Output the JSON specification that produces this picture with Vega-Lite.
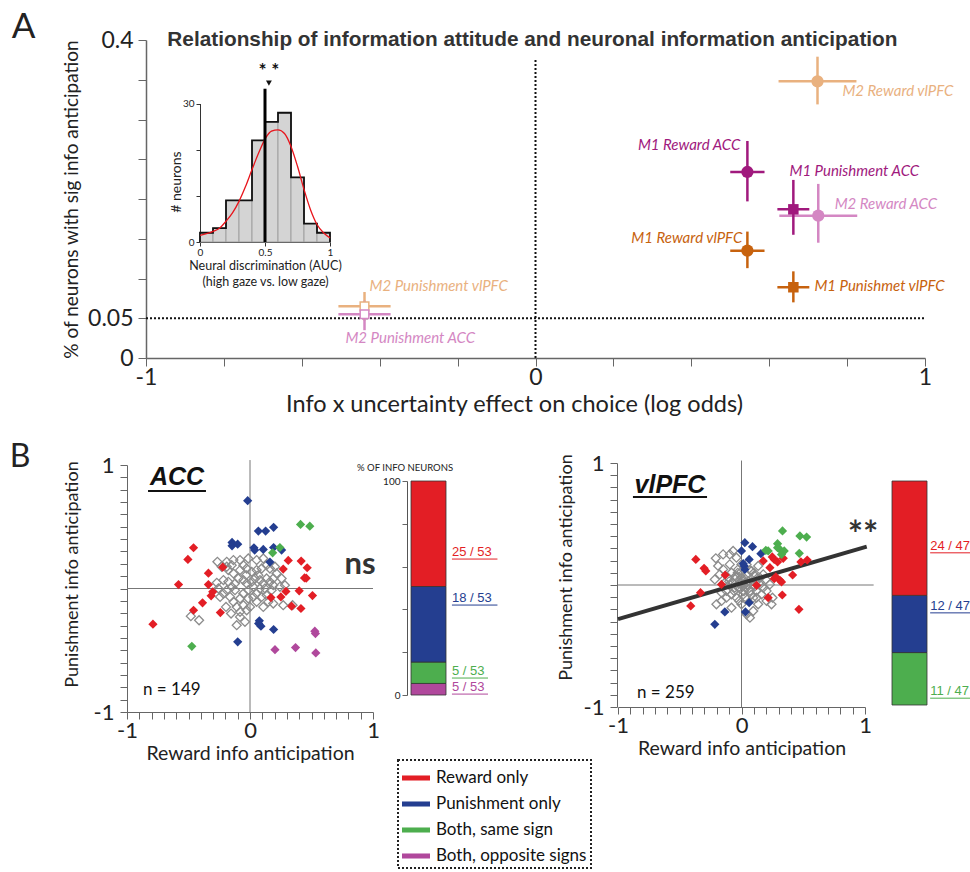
{
"$schema": "https://vega.github.io/schema/vega-lite/v6.json",
"width": 970, "height": 872, "autosize": "none", "padding": 0, "background": "white",
"config": {
  "view": {"stroke": null},
  "axis": {"grid": false, "domainColor": "#666", "tickColor": "#666", "labelColor": "#222", "titleColor": "#222", "labelFont": "Lato", "titleFont": "Lato", "titleFontWeight": "normal", "labelFlush": false, "labelOverlap": false, "labelBound": false},
  "legend": {"strokeDash": [2, 2], "strokeWidth": 2},
  "text": {"font": "Lato"}
},
"datasets": {
  "aPts": [
    {"label": "M2 Reward vlPFC", "group": "M2 vlPFC", "valence": "Reward", "x": 0.724, "y": 0.348, "xlo": 0.624, "xhi": 0.824, "ylo": 0.319, "yhi": 0.379},
    {"label": "M1 Reward ACC", "group": "M1 ACC", "valence": "Reward", "x": 0.544, "y": 0.234, "xlo": 0.5, "xhi": 0.588, "ylo": 0.197, "yhi": 0.273},
    {"label": "M1 Punishment ACC", "group": "M1 ACC", "valence": "Punishment", "x": 0.662, "y": 0.187, "xlo": 0.621, "xhi": 0.703, "ylo": 0.155, "yhi": 0.224},
    {"label": "M2 Reward ACC", "group": "M2 ACC", "valence": "Reward", "x": 0.726, "y": 0.179, "xlo": 0.626, "xhi": 0.826, "ylo": 0.145, "yhi": 0.219},
    {"label": "M1 Reward vlPFC", "group": "M1 vlPFC", "valence": "Reward", "x": 0.544, "y": 0.135, "xlo": 0.5, "xhi": 0.588, "ylo": 0.113, "yhi": 0.159},
    {"label": "M1 Punishmet vlPFC", "group": "M1 vlPFC", "valence": "Punishment", "x": 0.662, "y": 0.089, "xlo": 0.621, "xhi": 0.703, "ylo": 0.07, "yhi": 0.109},
    {"label": "M2 Punishment vlPFC", "group": "M2 vlPFC", "valence": "Punishment", "x": -0.439, "y": 0.065, "xlo": -0.506, "xhi": -0.372, "ylo": 0.047, "yhi": 0.083},
    {"label": "M2 Punishment ACC", "group": "M2 ACC", "valence": "Punishment", "x": -0.439, "y": 0.055, "xlo": -0.506, "xhi": -0.372, "ylo": 0.035, "yhi": 0.072}
  ],
  "aLab": [
    {"label": "M2 Reward vlPFC", "group": "M2 vlPFC", "x": 0.788, "y": 0.336},
    {"label": "M1 Reward ACC", "group": "M1 ACC", "x": 0.526, "y": 0.268},
    {"label": "M1 Punishment ACC", "group": "M1 ACC", "x": 0.652, "y": 0.235},
    {"label": "M2 Reward ACC", "group": "M2 ACC", "x": 0.768, "y": 0.194},
    {"label": "M1 Reward vlPFC", "group": "M1 vlPFC", "x": 0.531, "y": 0.151},
    {"label": "M1 Punishmet vlPFC", "group": "M1 vlPFC", "x": 0.716, "y": 0.0906},
    {"label": "M2 Punishment vlPFC", "group": "M2 vlPFC", "x": -0.426, "y": 0.0906},
    {"label": "M2 Punishment ACC", "group": "M2 ACC", "x": -0.488, "y": 0.025}
  ],
  "hist": [
    {"b0": 0, "b1": 0.1, "n": 2}, {"b0": 0.1, "b1": 0.2, "n": 3}, {"b0": 0.2, "b1": 0.3, "n": 9}, {"b0": 0.3, "b1": 0.4, "n": 9},
    {"b0": 0.4, "b1": 0.5, "n": 22}, {"b0": 0.5, "b1": 0.6, "n": 26}, {"b0": 0.6, "b1": 0.7, "n": 28}, {"b0": 0.7, "b1": 0.8, "n": 14},
    {"b0": 0.8, "b1": 0.9, "n": 4}, {"b0": 0.9, "b1": 1, "n": 2}
  ],
  "histStep": [
    {"e": 0, "n": 0, "i": 0}, {"e": 0, "n": 2, "i": 1}, {"e": 0.1, "n": 3, "i": 2}, {"e": 0.2, "n": 9, "i": 3}, {"e": 0.3, "n": 9, "i": 4},
    {"e": 0.4, "n": 22, "i": 5}, {"e": 0.5, "n": 26, "i": 6}, {"e": 0.6, "n": 28, "i": 7}, {"e": 0.7, "n": 14, "i": 8}, {"e": 0.8, "n": 4, "i": 9},
    {"e": 0.9, "n": 2, "i": 10}, {"e": 1, "n": 2, "i": 11}, {"e": 1, "n": 0, "i": 12}
  ],
  "gauss": [
    {"x": 0, "y": 1.45}, {"x": 0.05, "y": 1.8}, {"x": 0.1, "y": 2.3}, {"x": 0.15, "y": 3.0}, {"x": 0.2, "y": 4.5}, {"x": 0.25, "y": 6.3},
    {"x": 0.3, "y": 8.8}, {"x": 0.35, "y": 12.0}, {"x": 0.4, "y": 15.7}, {"x": 0.45, "y": 19.2}, {"x": 0.5, "y": 22.3}, {"x": 0.55, "y": 24.0},
    {"x": 0.6, "y": 24.3}, {"x": 0.65, "y": 23.5}, {"x": 0.7, "y": 20.7}, {"x": 0.75, "y": 16.4}, {"x": 0.8, "y": 11.4}, {"x": 0.85, "y": 7.0},
    {"x": 0.9, "y": 3.8}, {"x": 0.95, "y": 2.0}, {"x": 1, "y": 0.9}
  ],
  "acc": [
    {"x": -0.789, "y": -0.289, "cat": "Reward only"}, {"x": -0.581, "y": 0.032, "cat": "Reward only"}, {"x": -0.505, "y": 0.235, "cat": "Reward only"}, {"x": -0.459, "y": 0.33, "cat": "Reward only"}, {"x": -0.459, "y": -0.176, "cat": "Reward only"},
    {"x": -0.386, "y": -0.116, "cat": "Reward only"}, {"x": -0.338, "y": 0.124, "cat": "Reward only"}, {"x": -0.338, "y": 0.032, "cat": "Reward only"}, {"x": -0.316, "y": -0.059, "cat": "Reward only"}, {"x": -0.303, "y": -0.027, "cat": "Reward only"},
    {"x": -0.241, "y": -0.195, "cat": "Reward only"}, {"x": -0.222, "y": 0.173, "cat": "Reward only"}, {"x": 0.17, "y": -0.073, "cat": "Reward only"}, {"x": 0.251, "y": -0.068, "cat": "Reward only"}, {"x": 0.27, "y": 0.157, "cat": "Reward only"},
    {"x": 0.292, "y": -0.024, "cat": "Reward only"}, {"x": 0.311, "y": 0.227, "cat": "Reward only"}, {"x": 0.338, "y": -0.143, "cat": "Reward only"}, {"x": 0.4, "y": -0.019, "cat": "Reward only"}, {"x": 0.414, "y": -0.162, "cat": "Reward only"},
    {"x": 0.416, "y": 0.222, "cat": "Reward only"}, {"x": 0.443, "y": 0.086, "cat": "Reward only"}, {"x": 0.465, "y": 0.168, "cat": "Reward only"}, {"x": 0.457, "y": 0.084, "cat": "Reward only"}, {"x": 0.508, "y": -0.057, "cat": "Reward only"},
    {"x": -0.019, "y": 0.711, "cat": "Punishment only"}, {"x": -0.146, "y": 0.373, "cat": "Punishment only"}, {"x": -0.146, "y": 0.346, "cat": "Punishment only"}, {"x": -0.1, "y": 0.359, "cat": "Punishment only"}, {"x": 0.068, "y": 0.465, "cat": "Punishment only"},
    {"x": 0.127, "y": 0.465, "cat": "Punishment only"}, {"x": 0.192, "y": 0.495, "cat": "Punishment only"}, {"x": 0.032, "y": 0.33, "cat": "Punishment only"}, {"x": 0.038, "y": 0.311, "cat": "Punishment only"}, {"x": 0.108, "y": 0.316, "cat": "Punishment only"},
    {"x": 0.192, "y": 0.332, "cat": "Punishment only"}, {"x": 0.257, "y": 0.311, "cat": "Punishment only"}, {"x": 0.162, "y": 0.214, "cat": "Punishment only"}, {"x": 0.076, "y": -0.262, "cat": "Punishment only"}, {"x": 0.089, "y": -0.305, "cat": "Punishment only"},
    {"x": 0.192, "y": -0.332, "cat": "Punishment only"}, {"x": -0.1, "y": -0.432, "cat": "Punishment only"}, {"x": 0.07, "y": -0.284, "cat": "Punishment only"},
    {"x": 0.411, "y": 0.519, "cat": "Both, same sign"}, {"x": 0.486, "y": 0.505, "cat": "Both, same sign"}, {"x": 0.184, "y": 0.289, "cat": "Both, same sign"}, {"x": 0.243, "y": 0.332, "cat": "Both, same sign"}, {"x": -0.473, "y": -0.468, "cat": "Both, same sign"},
    {"x": 0.527, "y": -0.346, "cat": "Both, opposite signs"}, {"x": 0.532, "y": -0.365, "cat": "Both, opposite signs"}, {"x": 0.203, "y": -0.495, "cat": "Both, opposite signs"}, {"x": 0.37, "y": -0.478, "cat": "Both, opposite signs"}, {"x": 0.535, "y": -0.522, "cat": "Both, opposite signs"},
    {"x": -0.265, "y": 0.216, "cat": "None"}, {"x": -0.23, "y": 0.176, "cat": "None"}, {"x": -0.189, "y": 0.216, "cat": "None"}, {"x": -0.149, "y": 0.189, "cat": "None"}, {"x": -0.135, "y": 0.23, "cat": "None"},
    {"x": -0.081, "y": 0.23, "cat": "None"}, {"x": -0.054, "y": 0.189, "cat": "None"}, {"x": -0.014, "y": 0.243, "cat": "None"}, {"x": 0.054, "y": 0.23, "cat": "None"}, {"x": 0.108, "y": 0.243, "cat": "None"},
    {"x": 0.135, "y": 0.189, "cat": "None"}, {"x": 0.162, "y": 0.162, "cat": "None"}, {"x": 0.095, "y": 0.162, "cat": "None"}, {"x": 0.054, "y": 0.149, "cat": "None"}, {"x": 0.014, "y": 0.135, "cat": "None"},
    {"x": -0.027, "y": 0.162, "cat": "None"}, {"x": -0.081, "y": 0.149, "cat": "None"}, {"x": -0.135, "y": 0.122, "cat": "None"}, {"x": -0.176, "y": 0.149, "cat": "None"}, {"x": -0.27, "y": 0.046, "cat": "None"},
    {"x": -0.216, "y": 0.068, "cat": "None"}, {"x": -0.176, "y": 0.054, "cat": "None"}, {"x": -0.149, "y": 0.014, "cat": "None"}, {"x": -0.122, "y": -0.014, "cat": "None"}, {"x": -0.189, "y": -0.014, "cat": "None"},
    {"x": -0.216, "y": -0.041, "cat": "None"}, {"x": -0.162, "y": -0.068, "cat": "None"}, {"x": -0.135, "y": -0.108, "cat": "None"}, {"x": -0.108, "y": -0.149, "cat": "None"}, {"x": -0.081, "y": -0.189, "cat": "None"},
    {"x": -0.054, "y": -0.135, "cat": "None"}, {"x": -0.027, "y": -0.176, "cat": "None"}, {"x": 0, "y": -0.149, "cat": "None"}, {"x": -0.014, "y": -0.081, "cat": "None"}, {"x": -0.054, "y": -0.041, "cat": "None"},
    {"x": -0.081, "y": -0.081, "cat": "None"}, {"x": -0.122, "y": 0.041, "cat": "None"}, {"x": -0.095, "y": 0.081, "cat": "None"}, {"x": -0.054, "y": 0.068, "cat": "None"}, {"x": -0.027, "y": 0.041, "cat": "None"},
    {"x": 0.014, "y": 0.054, "cat": "None"}, {"x": 0.041, "y": 0.081, "cat": "None"}, {"x": 0.068, "y": 0.108, "cat": "None"}, {"x": 0.081, "y": 0.068, "cat": "None"}, {"x": 0.108, "y": 0.041, "cat": "None"},
    {"x": 0.135, "y": 0.081, "cat": "None"}, {"x": 0.162, "y": 0.054, "cat": "None"}, {"x": 0.189, "y": 0.027, "cat": "None"}, {"x": 0.176, "y": -0.014, "cat": "None"}, {"x": 0.122, "y": 0, "cat": "None"},
    {"x": 0.081, "y": 0, "cat": "None"}, {"x": 0.054, "y": -0.041, "cat": "None"}, {"x": 0.095, "y": -0.068, "cat": "None"}, {"x": 0.135, "y": -0.054, "cat": "None"}, {"x": 0.189, "y": 0.081, "cat": "None"},
    {"x": 0.216, "y": 0.122, "cat": "None"}, {"x": 0.243, "y": 0.014, "cat": "None"}, {"x": 0.284, "y": 0.027, "cat": "None"}, {"x": 0.27, "y": -0.135, "cat": "None"}, {"x": 0.189, "y": -0.122, "cat": "None"},
    {"x": 0.149, "y": -0.108, "cat": "None"}, {"x": 0.108, "y": -0.149, "cat": "None"}, {"x": 0.054, "y": -0.108, "cat": "None"}, {"x": 0.027, "y": -0.068, "cat": "None"}, {"x": -0.014, "y": -0.014, "cat": "None"},
    {"x": -0.081, "y": -0.23, "cat": "None"}, {"x": -0.108, "y": -0.297, "cat": "None"}, {"x": -0.041, "y": -0.27, "cat": "None"}, {"x": -0.481, "y": -0.224, "cat": "None"}, {"x": -0.414, "y": -0.257, "cat": "None"},
    {"x": -0.195, "y": -0.149, "cat": "None"}, {"x": -0.154, "y": -0.203, "cat": "None"}, {"x": -0.189, "y": 0.176, "cat": "None"}, {"x": -0.257, "y": 0, "cat": "None"}, {"x": -0.243, "y": -0.068, "cat": "None"},
    {"x": 0.203, "y": 0.176, "cat": "None"}, {"x": 0.257, "y": 0.081, "cat": "None"}, {"x": 0.346, "y": -0.135, "cat": "None"}, {"x": 0.027, "y": 0.014, "cat": "None"}, {"x": -0.032, "y": 0.108, "cat": "None"}
  ],
  "vl": [
    {"x": -0.37, "y": 0.21, "cat": "Reward only"}, {"x": -0.303, "y": 0.137, "cat": "Reward only"}, {"x": -0.289, "y": 0.115, "cat": "Reward only"}, {"x": -0.332, "y": -0.063, "cat": "Reward only"}, {"x": -0.411, "y": -0.172, "cat": "Reward only"},
    {"x": -0.132, "y": 0.082, "cat": "Reward only"}, {"x": -0.162, "y": 0.005, "cat": "Reward only"}, {"x": 0.122, "y": -0.003, "cat": "Reward only"}, {"x": 0.176, "y": 0.197, "cat": "Reward only"}, {"x": 0.23, "y": 0.142, "cat": "Reward only"},
    {"x": 0.249, "y": 0.23, "cat": "Reward only"}, {"x": 0.265, "y": 0.21, "cat": "Reward only"}, {"x": 0.278, "y": 0.066, "cat": "Reward only"}, {"x": 0.311, "y": 0.038, "cat": "Reward only"}, {"x": 0.324, "y": 0.025, "cat": "Reward only"},
    {"x": 0.338, "y": 0.219, "cat": "Reward only"}, {"x": 0.414, "y": 0.082, "cat": "Reward only"}, {"x": 0.481, "y": 0.189, "cat": "Reward only"}, {"x": 0.532, "y": 0.205, "cat": "Reward only"}, {"x": 0.216, "y": -0.104, "cat": "Reward only"},
    {"x": 0.33, "y": -0.082, "cat": "Reward only"}, {"x": 0.465, "y": -0.199, "cat": "Reward only"}, {"x": 0.265, "y": 0.052, "cat": "Reward only"}, {"x": 0.292, "y": 0.189, "cat": "Reward only"},
    {"x": 0.027, "y": 0.347, "cat": "Punishment only"}, {"x": 0.089, "y": 0.314, "cat": "Punishment only"}, {"x": 0, "y": 0.279, "cat": "Punishment only"}, {"x": 0.062, "y": 0.21, "cat": "Punishment only"}, {"x": 0.022, "y": 0.156, "cat": "Punishment only"},
    {"x": 0.027, "y": 0.128, "cat": "Punishment only"}, {"x": 0.157, "y": 0.257, "cat": "Punishment only"}, {"x": 0.062, "y": -0.145, "cat": "Punishment only"}, {"x": 0.032, "y": -0.221, "cat": "Punishment only"}, {"x": -0.135, "y": -0.221, "cat": "Punishment only"},
    {"x": -0.216, "y": -0.322, "cat": "Punishment only"}, {"x": 0.014, "y": 0.175, "cat": "Punishment only"},
    {"x": 0.332, "y": 0.443, "cat": "Both, same sign"}, {"x": 0.473, "y": 0.402, "cat": "Both, same sign"}, {"x": 0.527, "y": 0.393, "cat": "Both, same sign"}, {"x": 0.197, "y": 0.284, "cat": "Both, same sign"}, {"x": 0.216, "y": 0.279, "cat": "Both, same sign"},
    {"x": 0.292, "y": 0.339, "cat": "Both, same sign"}, {"x": 0.311, "y": 0.292, "cat": "Both, same sign"}, {"x": 0.346, "y": 0.279, "cat": "Both, same sign"}, {"x": 0.324, "y": 0.251, "cat": "Both, same sign"}, {"x": 0.468, "y": 0.26, "cat": "Both, same sign"},
    {"x": 0.292, "y": 0.306, "cat": "Both, same sign"},
    {"x": -0.208, "y": 0.219, "cat": "None"}, {"x": -0.189, "y": 0.156, "cat": "None"}, {"x": -0.216, "y": 0.046, "cat": "None"}, {"x": -0.203, "y": -0.158, "cat": "None"}, {"x": -0.162, "y": -0.131, "cat": "None"},
    {"x": -0.122, "y": -0.049, "cat": "None"}, {"x": -0.081, "y": -0.186, "cat": "None"}, {"x": -0.068, "y": 0.279, "cat": "None"}, {"x": -0.041, "y": 0.224, "cat": "None"}, {"x": -0.095, "y": 0.169, "cat": "None"},
    {"x": -0.149, "y": 0.128, "cat": "None"}, {"x": -0.108, "y": 0.06, "cat": "None"}, {"x": -0.068, "y": 0.019, "cat": "None"}, {"x": -0.027, "y": -0.022, "cat": "None"}, {"x": 0, "y": 0.06, "cat": "None"},
    {"x": 0.041, "y": 0.019, "cat": "None"}, {"x": 0.068, "y": -0.049, "cat": "None"}, {"x": 0.095, "y": -0.104, "cat": "None"}, {"x": 0.122, "y": -0.049, "cat": "None"}, {"x": 0.149, "y": 0.005, "cat": "None"},
    {"x": 0.176, "y": -0.022, "cat": "None"}, {"x": 0.203, "y": -0.049, "cat": "None"}, {"x": 0.243, "y": -0.158, "cat": "None"}, {"x": 0.251, "y": -0.104, "cat": "None"}, {"x": 0.203, "y": -0.131, "cat": "None"},
    {"x": 0.135, "y": -0.158, "cat": "None"}, {"x": 0.095, "y": -0.213, "cat": "None"}, {"x": 0.068, "y": -0.268, "cat": "None"}, {"x": 0.041, "y": -0.24, "cat": "None"}, {"x": 0, "y": -0.158, "cat": "None"},
    {"x": -0.041, "y": -0.104, "cat": "None"}, {"x": -0.081, "y": -0.077, "cat": "None"}, {"x": 0.014, "y": -0.077, "cat": "None"}, {"x": 0.041, "y": 0.087, "cat": "None"}, {"x": 0.081, "y": 0.115, "cat": "None"},
    {"x": 0.108, "y": 0.074, "cat": "None"}, {"x": 0.135, "y": 0.156, "cat": "None"}, {"x": 0, "y": 0.169, "cat": "None"}, {"x": -0.027, "y": 0.128, "cat": "None"}, {"x": -0.041, "y": 0.06, "cat": "None"},
    {"x": -0.081, "y": 0.101, "cat": "None"}, {"x": 0.095, "y": 0.005, "cat": "None"}, {"x": 0.122, "y": -0.104, "cat": "None"}, {"x": 0.162, "y": -0.077, "cat": "None"}, {"x": 0.041, "y": -0.022, "cat": "None"},
    {"x": 0.014, "y": -0.008, "cat": "None"}, {"x": -0.014, "y": 0.019, "cat": "None"}, {"x": -0.054, "y": -0.022, "cat": "None"}, {"x": -0.095, "y": 0.005, "cat": "None"}, {"x": -0.122, "y": -0.104, "cat": "None"},
    {"x": -0.162, "y": -0.063, "cat": "None"}, {"x": -0.135, "y": 0.019, "cat": "None"}, {"x": -0.176, "y": 0.087, "cat": "None"}, {"x": -0.149, "y": 0.251, "cat": "None"}, {"x": -0.095, "y": 0.251, "cat": "None"},
    {"x": 0.041, "y": 0.169, "cat": "None"}, {"x": 0.176, "y": 0.087, "cat": "None"}, {"x": 0.149, "y": 0.06, "cat": "None"}, {"x": 0.23, "y": 0.005, "cat": "None"}, {"x": 0.197, "y": 0.046, "cat": "None"},
    {"x": 0.01, "y": 0.03, "cat": "None"}, {"x": 0.03, "y": 0.05, "cat": "None"}, {"x": -0.02, "y": 0.04, "cat": "None"}, {"x": 0.05, "y": 0.0, "cat": "None"}, {"x": -0.01, "y": -0.03, "cat": "None"},
    {"x": 0.02, "y": -0.05, "cat": "None"}, {"x": 0.06, "y": 0.03, "cat": "None"}, {"x": -0.05, "y": 0.07, "cat": "None"}, {"x": 0.07, "y": 0.12, "cat": "None"}, {"x": -0.03, "y": 0.1, "cat": "None"},
    {"x": 0.0, "y": 0.11, "cat": "None"}, {"x": 0.1, "y": 0.1, "cat": "None"}, {"x": 0.11, "y": -0.01, "cat": "None"}, {"x": -0.06, "y": -0.05, "cat": "None"}, {"x": 0.03, "y": -0.1, "cat": "None"},
    {"x": -0.02, "y": -0.13, "cat": "None"}, {"x": 0.08, "y": -0.08, "cat": "None"}, {"x": 0.12, "y": 0.03, "cat": "None"}, {"x": -0.1, "y": 0.03, "cat": "None"}, {"x": 0.0, "y": 0.0, "cat": "None"}
  ],
  "vlFit": [{"x": -1, "y": -0.28}, {"x": 1.014, "y": 0.314}],
  "accBar": [
    {"cat": "Both, opposite signs", "pct": 5.4, "rank": 1},
    {"cat": "Both, same sign", "pct": 10.0, "rank": 2},
    {"cat": "Punishment only", "pct": 35.3, "rank": 3},
    {"cat": "Reward only", "pct": 49.3, "rank": 4}
  ],
  "accBarLab": [
    {"cat": "Reward only", "txt": "25 / 53", "y": 66.8},
    {"cat": "Punishment only", "txt": "18 / 53", "y": 45.3},
    {"cat": "Both, same sign", "txt": "5 / 53", "y": 11.2},
    {"cat": "Both, opposite signs", "txt": "5 / 53", "y": 3.7}
  ],
  "vlBar": [
    {"cat": "Both, same sign", "n": 11, "rank": 2},
    {"cat": "Punishment only", "n": 12, "rank": 3},
    {"cat": "Reward only", "n": 24, "rank": 4}
  ],
  "vlBarLab": [
    {"cat": "Reward only", "txt": "24 / 47", "y": 33.4},
    {"cat": "Punishment only", "txt": "12 / 47", "y": 20.8},
    {"cat": "Both, same sign", "txt": "11 / 47", "y": 2.9}
  ]
},
"layer": [
  {
    "layer": [
      {
        "data": {"values": [{"x": 0, "ylo": 0, "yhi": 0.375}]},
        "mark": {"type": "rule", "strokeDash": [2, 2], "strokeWidth": 2, "color": "#111"},
        "encoding": {
          "x": {"field": "x", "type": "quantitative", "scale": {"domain": [-1, 1], "range": [146, 925], "nice": false, "zero": false},
            "axis": {"orient": "bottom", "offset": -514, "values": [-1, -0.8, -0.6, -0.4, -0.2, 0, 0.2, 0.4, 0.6, 0.8, 1], "labelExpr": "datum.value == -1 ? '-1' : datum.value == 0 ? '0' : datum.value == 1 ? '1' : ''", "labelFontSize": 23, "tickSize": 8, "labelPadding": 0, "domainWidth": 1.5, "title": "Info x uncertainty effect on choice (log odds)", "titleFontSize": 23.5, "titlePadding": 3, "titleX": 514}},
          "y": {"field": "ylo", "type": "quantitative", "scale": {"domain": [0, 0.4], "range": [358, 40], "nice": false, "zero": false},
            "axis": {"orient": "left", "offset": -146, "values": [0, 0.05, 0.1, 0.15, 0.2, 0.25, 0.3, 0.35, 0.4], "labelExpr": "datum.value == 0 ? '0' : datum.value == 0.05 ? '0.05' : datum.value == 0.4 ? '0.4' : ''", "labelFontSize": 23, "tickSize": 8, "labelPadding": 5, "domainWidth": 1.5, "title": "% of neurons with sig info anticipation", "titleFontSize": 19, "titlePadding": 6}},
          "y2": {"field": "yhi"}
        }
      },
      {
        "data": {"values": [{"xlo": -1, "xhi": 1, "y": 0.05}]},
        "mark": {"type": "rule", "strokeDash": [2, 2], "strokeWidth": 2, "color": "#111"},
        "encoding": {"x": {"field": "xlo", "type": "quantitative"}, "x2": {"field": "xhi"}, "y": {"field": "y", "type": "quantitative"}}
      },
      {
        "data": {"name": "aPts"},
        "mark": {"type": "rule", "strokeWidth": 2.5},
        "encoding": {
          "x": {"field": "xlo", "type": "quantitative"}, "x2": {"field": "xhi"}, "y": {"field": "y", "type": "quantitative"},
          "color": {"field": "group", "type": "nominal", "scale": {"domain": ["M1 ACC", "M2 ACC", "M1 vlPFC", "M2 vlPFC"], "range": ["#A0197D", "#D487C3", "#C7620E", "#E9B17F"]}, "legend": null}
        }
      },
      {
        "data": {"name": "aPts"},
        "mark": {"type": "rule", "strokeWidth": 2.5},
        "encoding": {
          "x": {"field": "x", "type": "quantitative"}, "y": {"field": "ylo", "type": "quantitative"}, "y2": {"field": "yhi"},
          "color": {"field": "group", "type": "nominal", "legend": null}
        }
      },
      {
        "data": {"name": "aPts"},
        "transform": [{"filter": "datum.valence == 'Reward'"}],
        "mark": {"type": "point", "shape": "circle", "filled": true, "size": 150, "opacity": 1},
        "encoding": {"x": {"field": "x", "type": "quantitative"}, "y": {"field": "y", "type": "quantitative"}, "color": {"field": "group", "type": "nominal", "legend": null}}
      },
      {
        "data": {"name": "aPts"},
        "transform": [{"filter": "datum.valence == 'Punishment' && indexof(datum.group, 'M1') == 0"}],
        "mark": {"type": "point", "shape": "square", "filled": true, "size": 110, "opacity": 1},
        "encoding": {"x": {"field": "x", "type": "quantitative"}, "y": {"field": "y", "type": "quantitative"}, "color": {"field": "group", "type": "nominal", "legend": null}}
      },
      {
        "data": {"name": "aPts"},
        "transform": [{"filter": "datum.valence == 'Punishment' && indexof(datum.group, 'M2') == 0"}],
        "mark": {"type": "point", "shape": "square", "filled": false, "fill": "white", "fillOpacity": 1, "strokeWidth": 1.5, "size": 75, "opacity": 1},
        "encoding": {"x": {"field": "x", "type": "quantitative"}, "y": {"field": "y", "type": "quantitative"}, "color": {"field": "group", "type": "nominal", "legend": null}}
      },
      {
        "data": {"name": "aLab"},
        "transform": [{"filter": "datum.label != 'M1 Reward ACC' && datum.label != 'M1 Reward vlPFC'"}],
        "mark": {"type": "text", "align": "left", "baseline": "middle", "fontStyle": "italic", "fontSize": 15, "font": "Lato"},
        "encoding": {"x": {"field": "x", "type": "quantitative"}, "y": {"field": "y", "type": "quantitative"}, "text": {"field": "label"}, "color": {"field": "group", "type": "nominal", "legend": null}}
      },
      {
        "data": {"name": "aLab"},
        "transform": [{"filter": "datum.label == 'M1 Reward ACC' || datum.label == 'M1 Reward vlPFC'"}],
        "mark": {"type": "text", "align": "right", "baseline": "middle", "fontStyle": "italic", "fontSize": 15, "font": "Lato"},
        "encoding": {"x": {"field": "x", "type": "quantitative"}, "y": {"field": "y", "type": "quantitative"}, "text": {"field": "label"}, "color": {"field": "group", "type": "nominal", "legend": null}}
      },
      {
        "data": {"values": [{"x": -0.008, "y": 0.4, "t": "Relationship of information attitude and neuronal information anticipation"}]},
        "mark": {"type": "text", "align": "center", "baseline": "middle", "font": "Liberation Sans", "fontWeight": "bold", "fontSize": 20.8, "color": "#333"},
        "encoding": {"x": {"field": "x", "type": "quantitative"}, "y": {"field": "y", "type": "quantitative"}, "text": {"field": "t"}}
      },
      {
        "data": {"values": [{"x": -1.314, "y": 0.416, "t": "A"}]},
        "mark": {"type": "text", "align": "center", "baseline": "middle", "fontSize": 35, "color": "#222"},
        "encoding": {"x": {"field": "x", "type": "quantitative"}, "y": {"field": "y", "type": "quantitative"}, "text": {"field": "t"}}
      }
    ]
  },
  {
    "layer": [
      {
        "data": {"name": "hist"},
        "mark": {"type": "rect", "fill": "#d4d4d4", "stroke": "#a0a0a0", "strokeWidth": 1},
        "encoding": {
          "x": {"field": "b0", "type": "quantitative", "scale": {"domain": [0, 1], "range": [200, 330], "nice": false, "zero": false},
            "axis": {"orient": "bottom", "offset": -630, "values": [0, 0.5, 1], "format": "~g", "labelFontSize": 10, "tickSize": 4, "labelPadding": 1, "domainColor": "#333", "tickColor": "#333", "title": ["Neural discrimination (AUC)", "(high gaze vs. low gaze)"], "titleFontSize": 12.5, "titlePadding": 2, "titleLineHeight": 16}},
          "x2": {"field": "b1"},
          "y": {"field": "n", "type": "quantitative", "scale": {"domain": [0, 30], "range": [242, 103.5], "nice": false, "zero": false},
            "axis": {"orient": "left", "offset": -200, "values": [0, 10, 20, 30], "labelExpr": "datum.value == 0 || datum.value == 30 ? datum.label : ''", "labelFontSize": 10, "tickSize": 4, "labelPadding": 2, "domainColor": "#333", "tickColor": "#333", "title": null}},
          "y2": {"datum": 0}
        }
      },
      {
        "data": {"name": "histStep"},
        "mark": {"type": "line", "interpolate": "step-after", "color": "#111", "strokeWidth": 1.8},
        "encoding": {"x": {"field": "e", "type": "quantitative"}, "y": {"field": "n", "type": "quantitative"}, "order": {"field": "i"}}
      },
      {
        "data": {"name": "gauss"},
        "mark": {"type": "line", "interpolate": "monotone", "color": "#E8141B", "strokeWidth": 1.3},
        "encoding": {"x": {"field": "x", "type": "quantitative"}, "y": {"field": "y", "type": "quantitative"}}
      },
      {
        "data": {"values": [{"x": 0.5, "ylo": 0, "yhi": 33.2}]},
        "mark": {"type": "rule", "color": "#000", "strokeWidth": 3},
        "encoding": {"x": {"field": "x", "type": "quantitative"}, "y": {"field": "ylo", "type": "quantitative"}, "y2": {"field": "yhi"}}
      },
      {
        "data": {"values": [{"x": 0.53, "y": 34.4}]},
        "mark": {"type": "point", "shape": "triangle-down", "filled": true, "size": 35, "color": "#111", "opacity": 1},
        "encoding": {"x": {"field": "x", "type": "quantitative"}, "y": {"field": "y", "type": "quantitative"}}
      },
      {
        "data": {"values": [{"x": 0.53, "y": 37.0, "t": "* *"}]},
        "mark": {"type": "text", "align": "center", "baseline": "middle", "fontSize": 19, "fontWeight": "bold", "color": "#111"},
        "encoding": {"x": {"field": "x", "type": "quantitative"}, "y": {"field": "y", "type": "quantitative"}, "text": {"field": "t"}}
      },
      {
        "data": {"values": [{"x": -0.177, "y": 13.0, "t": "# neurons"}]},
        "mark": {"type": "text", "align": "center", "baseline": "middle", "angle": 270, "fontSize": 14, "color": "#222"},
        "encoding": {"x": {"field": "x", "type": "quantitative"}, "y": {"field": "y", "type": "quantitative"}, "text": {"field": "t"}}
      }
    ]
  },
  {
    "layer": [
      {
        "data": {"values": [{"xlo": -1, "xhi": 1, "y": 0}]},
        "mark": {"type": "rule", "color": "#777", "strokeWidth": 1},
        "encoding": {
          "x": {"field": "xlo", "type": "quantitative", "scale": {"domain": [-1, 1], "range": [127, 373], "nice": false, "zero": false},
            "axis": {"orient": "bottom", "offset": -160, "values": [-1, -0.9, -0.8, -0.7, -0.6, -0.5, -0.4, -0.3, -0.2, -0.1, 0, 0.1, 0.2, 0.3, 0.4, 0.5, 0.6, 0.7, 0.8, 0.9, 1], "labelExpr": "datum.value == -1 ? '-1' : datum.value == 0 ? '0' : datum.value == 1 ? '1' : ''", "labelFontSize": 22, "tickSize": 7, "labelPadding": 1, "title": "Reward info anticipation", "titleFontSize": 19.5, "titlePadding": 3}},
          "x2": {"field": "xhi"},
          "y": {"field": "y", "type": "quantitative", "scale": {"domain": [-1, 1], "range": [712, 465], "nice": false, "zero": false},
            "axis": {"orient": "left", "offset": -127, "values": [-1, -0.9, -0.8, -0.7, -0.6, -0.5, -0.4, -0.3, -0.2, -0.1, 0, 0.1, 0.2, 0.3, 0.4, 0.5, 0.6, 0.7, 0.8, 0.9, 1], "labelExpr": "datum.value == -1 ? '-1' : datum.value == 1 ? '1' : ''", "labelFontSize": 22, "tickSize": 7, "labelPadding": 6, "title": "Punishment info anticipation", "titleFontSize": 18, "titlePadding": 12, "titleY": 574}}
        }
      },
      {
        "data": {"values": [{"x": 0, "ylo": -1, "yhi": 1.04}]},
        "mark": {"type": "rule", "color": "#777", "strokeWidth": 1},
        "encoding": {"x": {"field": "x", "type": "quantitative"}, "y": {"field": "ylo", "type": "quantitative"}, "y2": {"field": "yhi"}}
      },
      {
        "data": {"name": "acc"},
        "transform": [{"filter": "datum.cat == 'None'"}],
        "mark": {"type": "point", "shape": "diamond", "filled": false, "size": 80, "strokeWidth": 1.3, "color": "#8c8c8c", "opacity": 1},
        "encoding": {"x": {"field": "x", "type": "quantitative"}, "y": {"field": "y", "type": "quantitative"}}
      },
      {
        "data": {"name": "acc"},
        "transform": [{"filter": "datum.cat != 'None'"}],
        "mark": {"type": "point", "shape": "diamond", "filled": true, "size": 85, "opacity": 1},
        "encoding": {
          "x": {"field": "x", "type": "quantitative"}, "y": {"field": "y", "type": "quantitative"},
          "color": {"field": "cat", "type": "nominal", "scale": {"domain": ["Reward only", "Punishment only", "Both, same sign", "Both, opposite signs"], "range": ["#E31E25", "#243E90", "#4DAE4E", "#B0489C"]},
            "legend": {"orient": "none", "legendX": 398, "legendY": 760, "title": null, "symbolType": "M-1,-0.18L1,-0.18L1,0.18L-1,0.18Z", "symbolSize": 784, "symbolStrokeWidth": 0, "symbolOpacity": 1, "labelFontSize": 17, "labelFont": "Lato", "labelColor": "#111", "labelOffset": 6, "rowPadding": 4, "padding": 4, "strokeColor": "#222", "fillColor": "white"}}
        }
      },
      {
        "data": {"values": [{"x": -0.593, "y": 0.903, "t": "ACC"}]},
        "mark": {"type": "text", "align": "center", "baseline": "middle", "font": "Liberation Sans", "fontSize": 25, "fontWeight": "bold", "fontStyle": "italic", "color": "#111"},
        "encoding": {"x": {"field": "x", "type": "quantitative"}, "y": {"field": "y", "type": "quantitative"}, "text": {"field": "t"}}
      },
      {
        "data": {"values": [{"xlo": -0.829, "xhi": -0.358, "y": 0.79}]},
        "mark": {"type": "rule", "color": "#111", "strokeWidth": 2},
        "encoding": {"x": {"field": "xlo", "type": "quantitative"}, "x2": {"field": "xhi"}, "y": {"field": "y", "type": "quantitative"}}
      },
      {
        "data": {"values": [{"x": -0.87, "y": -0.822, "t": "n = 149"}]},
        "mark": {"type": "text", "align": "left", "baseline": "middle", "fontSize": 17, "color": "#111"},
        "encoding": {"x": {"field": "x", "type": "quantitative"}, "y": {"field": "y", "type": "quantitative"}, "text": {"field": "t"}}
      },
      {
        "data": {"values": [{"x": 0.894, "y": 0.19, "t": "ns"}]},
        "mark": {"type": "text", "align": "center", "baseline": "middle", "fontSize": 31, "fontWeight": "bold", "color": "#333"},
        "encoding": {"x": {"field": "x", "type": "quantitative"}, "y": {"field": "y", "type": "quantitative"}, "text": {"field": "t"}}
      },
      {
        "data": {"values": [{"x": -1.87, "y": 1.065, "t": "B"}]},
        "mark": {"type": "text", "align": "center", "baseline": "middle", "fontSize": 32, "color": "#222"},
        "encoding": {"x": {"field": "x", "type": "quantitative"}, "y": {"field": "y", "type": "quantitative"}, "text": {"field": "t"}}
      }
    ]
  },
  {
    "layer": [
      {
        "data": {"name": "accBar"},
        "transform": [{"stack": "pct", "groupby": [], "sort": [{"field": "rank", "order": "ascending"}], "as": ["p0", "p1"]}],
        "mark": {"type": "rect", "stroke": "#333", "strokeWidth": 0.8},
        "encoding": {
          "x": {"datum": 0, "type": "quantitative", "scale": {"domain": [0, 1], "range": [411, 446], "nice": false, "zero": false}, "axis": null},
          "x2": {"datum": 1},
          "y": {"field": "p0", "type": "quantitative", "scale": {"domain": [0, 100], "range": [695, 481], "nice": false, "zero": false},
            "axis": {"orient": "left", "offset": -407, "values": [0, 20, 40, 60, 80, 100], "labelExpr": "datum.value == 0 || datum.value == 100 ? datum.label : ''", "labelFontSize": 10, "tickSize": 5, "labelPadding": 2, "title": null, "domainColor": "#555"}},
          "y2": {"field": "p1"},
          "color": {"field": "cat", "type": "nominal", "scale": {"domain": ["Reward only", "Punishment only", "Both, same sign", "Both, opposite signs"], "range": ["#E31E25", "#243E90", "#4DAE4E", "#B0489C"]}, "legend": null}
        }
      },
      {
        "data": {"name": "accBarLab"},
        "mark": {"type": "text", "align": "left", "baseline": "middle", "fontSize": 13, "font": "Liberation Sans"},
        "encoding": {"x": {"datum": 1.17, "type": "quantitative"}, "y": {"field": "y", "type": "quantitative"}, "text": {"field": "txt"}, "color": {"field": "cat", "type": "nominal", "legend": null}}
      },
      {
        "data": {"name": "accBarLab"},
        "transform": [{"filter": "length(datum.txt) > 6"}],
        "mark": {"type": "rule", "strokeWidth": 1, "yOffset": 7},
        "encoding": {"x": {"datum": 1.17, "type": "quantitative"}, "x2": {"datum": 2.47}, "y": {"field": "y", "type": "quantitative"}, "color": {"field": "cat", "type": "nominal", "legend": null}}
      },
      {
        "data": {"name": "accBarLab"},
        "transform": [{"filter": "length(datum.txt) <= 6"}],
        "mark": {"type": "rule", "strokeWidth": 1, "yOffset": 7},
        "encoding": {"x": {"datum": 1.17, "type": "quantitative"}, "x2": {"datum": 2.2}, "y": {"field": "y", "type": "quantitative"}, "color": {"field": "cat", "type": "nominal", "legend": null}}
      },
      {
        "data": {"values": [{"x": -0.17, "y": 106.1, "t": "% OF INFO NEURONS"}]},
        "mark": {"type": "text", "align": "center", "baseline": "middle", "fontSize": 9.5, "color": "#222"},
        "encoding": {"x": {"field": "x", "type": "quantitative"}, "y": {"field": "y", "type": "quantitative"}, "text": {"field": "t"}}
      }
    ]
  },
  {
    "layer": [
      {
        "data": {"values": [{"xlo": -1, "xhi": 1.07, "y": 0}]},
        "mark": {"type": "rule", "color": "#777", "strokeWidth": 1},
        "encoding": {
          "x": {"field": "xlo", "type": "quantitative", "scale": {"domain": [-1, 1], "range": [618, 865], "nice": false, "zero": false},
            "axis": {"orient": "bottom", "offset": -165, "values": [-1, -0.9, -0.8, -0.7, -0.6, -0.5, -0.4, -0.3, -0.2, -0.1, 0, 0.1, 0.2, 0.3, 0.4, 0.5, 0.6, 0.7, 0.8, 0.9, 1], "labelExpr": "datum.value == -1 ? '-1' : datum.value == 0 ? '0' : datum.value == 1 ? '1' : ''", "labelFontSize": 22, "tickSize": 7, "labelPadding": 1, "title": "Reward info anticipation", "titleFontSize": 19.5, "titlePadding": 3}},
          "x2": {"field": "xhi"},
          "y": {"field": "y", "type": "quantitative", "scale": {"domain": [-1, 1], "range": [707, 463], "nice": false, "zero": false},
            "axis": {"orient": "left", "offset": -617, "values": [-1, -0.9, -0.8, -0.7, -0.6, -0.5, -0.4, -0.3, -0.2, -0.1, 0, 0.1, 0.2, 0.3, 0.4, 0.5, 0.6, 0.7, 0.8, 0.9, 1], "labelExpr": "datum.value == -1 ? '-1' : datum.value == 1 ? '1' : ''", "labelFontSize": 22, "tickSize": 7, "labelPadding": 6, "title": "Punishment info anticipation", "titleFontSize": 18, "titlePadding": 8, "titleY": 567}}
        }
      },
      {
        "data": {"values": [{"x": 0, "ylo": -1, "yhi": 1.02}]},
        "mark": {"type": "rule", "color": "#777", "strokeWidth": 1},
        "encoding": {"x": {"field": "x", "type": "quantitative"}, "y": {"field": "ylo", "type": "quantitative"}, "y2": {"field": "yhi"}}
      },
      {
        "data": {"name": "vl"},
        "transform": [{"filter": "datum.cat == 'None'"}],
        "mark": {"type": "point", "shape": "diamond", "filled": false, "size": 80, "strokeWidth": 1.3, "color": "#8c8c8c", "opacity": 1},
        "encoding": {"x": {"field": "x", "type": "quantitative"}, "y": {"field": "y", "type": "quantitative"}}
      },
      {
        "data": {"name": "vlFit"},
        "mark": {"type": "line", "color": "#333", "strokeWidth": 4},
        "encoding": {"x": {"field": "x", "type": "quantitative"}, "y": {"field": "y", "type": "quantitative"}}
      },
      {
        "data": {"name": "vl"},
        "transform": [{"filter": "datum.cat != 'None'"}],
        "mark": {"type": "point", "shape": "diamond", "filled": true, "size": 85, "opacity": 1},
        "encoding": {
          "x": {"field": "x", "type": "quantitative"}, "y": {"field": "y", "type": "quantitative"},
          "color": {"field": "cat", "type": "nominal", "scale": {"domain": ["Reward only", "Punishment only", "Both, same sign", "Both, opposite signs"], "range": ["#E31E25", "#243E90", "#4DAE4E", "#B0489C"]}, "legend": null}
        }
      },
      {
        "data": {"values": [{"x": -0.579, "y": 0.82, "t": "vlPFC"}]},
        "mark": {"type": "text", "align": "center", "baseline": "middle", "font": "Liberation Sans", "fontSize": 25, "fontWeight": "bold", "fontStyle": "italic", "color": "#111"},
        "encoding": {"x": {"field": "x", "type": "quantitative"}, "y": {"field": "y", "type": "quantitative"}, "text": {"field": "t"}}
      },
      {
        "data": {"values": [{"xlo": -0.879, "xhi": -0.279, "y": 0.721}]},
        "mark": {"type": "rule", "color": "#111", "strokeWidth": 2},
        "encoding": {"x": {"field": "xlo", "type": "quantitative"}, "x2": {"field": "xhi"}, "y": {"field": "y", "type": "quantitative"}}
      },
      {
        "data": {"values": [{"x": -0.846, "y": -0.885, "t": "n = 259"}]},
        "mark": {"type": "text", "align": "left", "baseline": "middle", "fontSize": 17, "color": "#111"},
        "encoding": {"x": {"field": "x", "type": "quantitative"}, "y": {"field": "y", "type": "quantitative"}, "text": {"field": "t"}}
      },
      {
        "data": {"values": [{"x": 0.984, "y": 0.40, "t": "**"}]},
        "mark": {"type": "text", "align": "center", "baseline": "middle", "fontSize": 36, "fontWeight": "bold", "color": "#333"},
        "encoding": {"x": {"field": "x", "type": "quantitative"}, "y": {"field": "y", "type": "quantitative"}, "text": {"field": "t"}}
      }
    ]
  },
  {
    "layer": [
      {
        "data": {"name": "vlBar"},
        "transform": [{"stack": "n", "groupby": [], "sort": [{"field": "rank", "order": "ascending"}], "as": ["p0", "p1"]}],
        "mark": {"type": "rect", "stroke": "#333", "strokeWidth": 0.8},
        "encoding": {
          "x": {"datum": 0, "type": "quantitative", "scale": {"domain": [0, 1], "range": [892, 927], "nice": false, "zero": false}, "axis": null},
          "x2": {"datum": 1},
          "y": {"field": "p0", "type": "quantitative", "scale": {"domain": [0, 47], "range": [705, 481], "nice": false, "zero": false}, "axis": null},
          "y2": {"field": "p1"},
          "color": {"field": "cat", "type": "nominal", "scale": {"domain": ["Reward only", "Punishment only", "Both, same sign", "Both, opposite signs"], "range": ["#E31E25", "#243E90", "#4DAE4E", "#B0489C"]}, "legend": null}
        }
      },
      {
        "data": {"name": "vlBarLab"},
        "mark": {"type": "text", "align": "left", "baseline": "middle", "fontSize": 13, "font": "Liberation Sans"},
        "encoding": {"x": {"datum": 1.09, "type": "quantitative"}, "y": {"field": "y", "type": "quantitative"}, "text": {"field": "txt"}, "color": {"field": "cat", "type": "nominal", "legend": null}}
      },
      {
        "data": {"name": "vlBarLab"},
        "mark": {"type": "rule", "strokeWidth": 1, "yOffset": 7},
        "encoding": {"x": {"datum": 1.09, "type": "quantitative"}, "x2": {"datum": 2.37}, "y": {"field": "y", "type": "quantitative"}, "color": {"field": "cat", "type": "nominal", "legend": null}}
      }
    ]
  }
],
"resolve": {"scale": {"x": "independent", "y": "independent", "color": "independent"}}
}
